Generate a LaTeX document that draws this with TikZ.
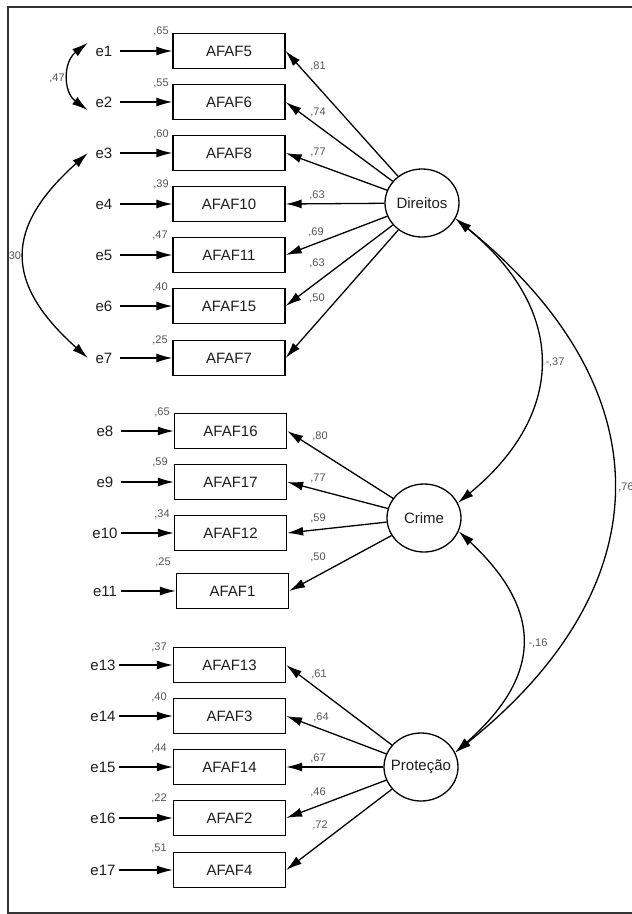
\documentclass[tikz,border=0pt]{standalone}
\usepackage{fontspec}
\setmainfont{Liberation Sans}
\usetikzlibrary{arrows.meta,shapes.geometric}
\definecolor{txtc}{HTML}{1E1E1E}
\definecolor{numc}{HTML}{555555}
\definecolor{framec}{HTML}{333333}
\begin{document}
\begin{tikzpicture}[x=1pt,y=1pt,
  obs/.style={draw, line width=1.3pt, minimum width=112pt, minimum height=35pt, inner sep=0pt, font=\fontsize{15}{15}\selectfont, text=txtc},
  err/.style={minimum width=32pt, minimum height=16pt, inner sep=0pt, font=\fontsize{15}{15}\selectfont, text=txtc},
  lat/.style={draw, ellipse, line width=1.3pt, minimum width=74pt, minimum height=68pt, inner sep=0pt, font=\fontsize{15}{15}\selectfont, text=txtc},
  numlbl/.style={font=\fontsize{11}{11}\selectfont, text=numc, inner sep=0pt},
  arr/.style={-{Latex[length=16pt,width=9pt]}, line width=1.3pt},
  darr/.style={{Latex[length=16pt,width=9pt]}-{Latex[length=16pt,width=9pt]}, line width=1.3pt}]
\useasboundingbox (0,0) rectangle (632,-914);
% frame
\draw[framec, line width=1.5pt] (632,-7) -- (8,-7) -- (8,-913) -- (632,-913);

% latent variables
\node[lat] (D) at (422,-203) {\makebox[0pt][c]{Direitos}};
\node[lat] (C) at (424,-518) {\makebox[0pt][c]{Crime}};
\node[lat] (P) at (421,-767) {\makebox[0pt][c]{Proteção}};

% group 1
\node[obs] (b5)  at (229,-51)  {AFAF5};
\node[obs] (b6)  at (229,-102) {AFAF6};
\node[obs] (b8)  at (229,-153) {AFAF8};
\node[obs] (b10) at (229,-204) {AFAF10};
\node[obs] (b11) at (229,-255) {AFAF11};
\node[obs] (b15) at (229,-306) {AFAF15};
\node[obs] (b7)  at (229,-358) {AFAF7};
\node[err] (e1) at (104,-51)  {e1};
\node[err] (e2) at (104,-102) {e2};
\node[err] (e3) at (104,-153) {e3};
\node[err] (e4) at (104,-204) {e4};
\node[err] (e5) at (104,-255) {e5};
\node[err] (e6) at (104,-306) {e6};
\node[err] (e7) at (104,-358) {e7};

% group 2
\node[obs] (b16) at (230.5,-431) {AFAF16};
\node[obs] (b17) at (230.5,-482) {AFAF17};
\node[obs] (b12) at (230.5,-533) {AFAF12};
\node[obs] (b1)  at (232.5,-591) {AFAF1};
\node[err] (e8)  at (105,-431) {e8};
\node[err] (e9)  at (105,-482) {e9};
\node[err] (e10) at (105,-533) {e10};
\node[err] (e11) at (105,-591) {e11};

% group 3
\node[obs] (b13) at (229.5,-665) {AFAF13};
\node[obs] (b3)  at (229.5,-716) {AFAF3};
\node[obs] (b14) at (229.5,-767) {AFAF14};
\node[obs] (b2)  at (229.5,-818) {AFAF2};
\node[obs] (b4)  at (229.5,-870) {AFAF4};
\node[err] (e13) at (103,-665) {e13};
\node[err] (e14) at (103,-716) {e14};
\node[err] (e15) at (103,-767) {e15};
\node[err] (e16) at (103,-818) {e16};
\node[err] (e17) at (103,-870) {e17};

% error arrows
\foreach \e/\b in {e1/b5,e2/b6,e3/b8,e4/b10,e5/b11,e6/b15,e7/b7,e8/b16,e9/b17,e10/b12,e11/b1,e13/b13,e14/b3,e15/b14,e16/b2,e17/b4}
  \draw[arr] (\e) -- (\b);

% loadings
\foreach \b in {b5,b6,b8,b10,b11,b15,b7} \draw[arr] (D) -- (\b.east);
\foreach \b in {b16,b17,b12,b1} \draw[arr] (C) -- (\b.east);
\foreach \b in {b13,b3,b14,b2,b4} \draw[arr] (P) -- (\b.east);

% covariances
\draw[darr] (e1.north west) .. controls (63,-62) and (63,-92) .. (e2.south west);
\draw[darr] (e3.west) .. controls (4,-228) and (4,-283) .. (e7.west);
\draw[darr] (D.-25) .. controls (567,-310) and (567,-413) .. (C.24);
\draw[darr] (D.-25) .. controls (665,-388) and (665,-585) .. (P.23);
\draw[darr] (C.-21) .. controls (543,-610) and (543,-675) .. (P.23);

% covariance labels
\node[numlbl] (k1) at (57,-78) {,47};
\node[numlbl] (k2) at (15,-256) {30};
\node[numlbl] (k3) at (555,-362) {-,37};
\node[numlbl] (k4) at (626,-487) {,76};
\node[numlbl] (k5) at (538,-643) {-,16};

% squared multiple correlations
\node[numlbl] (s5)  at (161,-31)  {,65};
\node[numlbl] (s6)  at (161,-83)  {,55};
\node[numlbl] (s8)  at (161,-134) {,60};
\node[numlbl] (s10) at (161,-184) {,39};
\node[numlbl] (s11) at (160,-235) {,47};
\node[numlbl] (s15) at (160,-287) {,40};
\node[numlbl] (s7)  at (160,-340) {,25};
\node[numlbl] (s16) at (162,-412) {,65};
\node[numlbl] (s17) at (160,-462) {,59};
\node[numlbl] (s12) at (162,-514) {,34};
\node[numlbl] (s1)  at (163,-562) {,25};
\node[numlbl] (s13) at (159,-647) {,37};
\node[numlbl] (s3)  at (159,-697) {,40};
\node[numlbl] (s14) at (159,-748) {,44};
\node[numlbl] (s2)  at (159,-798) {,22};
\node[numlbl] (s4)  at (159,-848) {,51};

% loading labels
\node[numlbl] (l5)  at (318,-66)  {,81};
\node[numlbl] (l6)  at (318,-112) {,74};
\node[numlbl] (l8)  at (318,-152) {,77};
\node[numlbl] (l10) at (317,-195) {,63};
\node[numlbl] (l11) at (316,-232) {,69};
\node[numlbl] (l15) at (317,-263) {,63};
\node[numlbl] (l7)  at (317,-298) {,50};
\node[numlbl] (l16) at (320,-436) {,80};
\node[numlbl] (l17) at (318,-478) {,77};
\node[numlbl] (l12) at (318,-518) {,59};
\node[numlbl] (l1)  at (318,-557) {,50};
\node[numlbl] (l13) at (319,-674) {,61};
\node[numlbl] (l3)  at (321,-717) {,64};
\node[numlbl] (l14) at (318,-758) {,67};
\node[numlbl] (l2)  at (318,-792) {,46};
\node[numlbl] (l4)  at (320,-825) {,72};
\end{tikzpicture}
\end{document}
